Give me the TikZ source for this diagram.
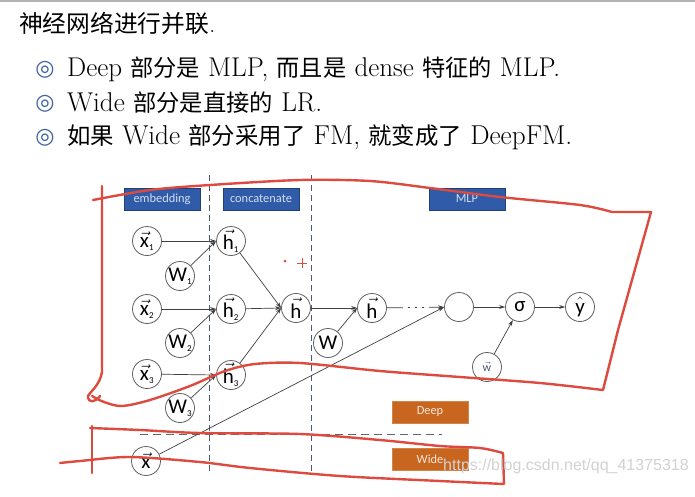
\documentclass[tikz,border=0pt]{standalone}
\usepackage{amsmath}
\usepackage{graphicx}
\usepackage{fontspec}
\newfontfamily\cjk{Noto Sans CJK SC}
\newfontfamily\dfont{Carlito}
\newfontfamily\symfont{DejaVu Sans}
\newfontfamily\wmfont{Liberation Sans}
\usetikzlibrary{arrows.meta,positioning}

\definecolor{boxblue}{HTML}{2F5BA8}
\definecolor{boxorange}{HTML}{C8651E}
\definecolor{penred}{HTML}{DD4B40}
\definecolor{sepline}{HTML}{4A5A70}
\definecolor{ringblue}{HTML}{3E63A0}

\newcommand\vlab[2]{$\vec{\hbox{\dfont #1}}_{\hbox{\dfont\fontsize{9}{9}\selectfont #2}}$}
\newcommand\wlab[1]{W\hbox{\fontsize{9}{9}\selectfont\raisebox{-3pt}{#1}}}
\newcommand\zh[1]{{\cjk\fontsize{21}{21}\selectfont #1}}

\tikzset{
  neuron/.style={circle, draw=gray!75!black, line width=0.8pt, minimum size=29pt,
    inner sep=0pt, font=\dfont\fontsize{21}{21}\selectfont},
  tagbox/.style={fill=boxblue, draw=boxblue!70!black, text=white!80!boxblue,
    minimum width=76pt, minimum height=22pt, inner sep=0pt,
    font=\dfont\fontsize{12.4}{12.4}\selectfont},
  partbox/.style={tagbox, fill=boxorange, draw=boxorange!80!white, text=white!85!boxorange},
  link/.style={draw=black!75, line width=0.7pt, -{Stealth[length=6pt,width=4pt]}},
  redpen/.style={draw=penred, line width=2.4pt, line cap=round, line join=round},
  bullettext/.style={anchor=west, inner sep=0pt, font=\fontsize{24.5}{28}\selectfont},
  ringmark/.style={inner sep=0pt, text=ringblue, font=\symfont\bfseries\fontsize{22}{22}\selectfont}
}

\begin{document}
\begin{tikzpicture}[x=1pt,y=-1pt]
  \useasboundingbox (0,0) rectangle (695,496);
  \fill[white] (0,0) rectangle (695,496);
  \draw[gray!60, line width=1.5pt] (0,1) -- (695,1);

  % title and bullets
  \node[anchor=west, inner sep=0pt, font=\fontsize{24}{28}\selectfont] (title) at (19,23)
    {\resizebox{196pt}{!}{{\cjk 神经网络进行并联}.}};
  \node[ringmark] (r1) at (45,70) {◎};
  \node[ringmark] (r2) at (45,104) {◎};
  \node[ringmark] (r3) at (45,138) {◎};
  \node[bullettext] (b1) at (67,69) {\resizebox{493pt}{!}{Deep \zh{部分是} MLP, \zh{而且是} dense \zh{特征的} MLP.}};
  \node[bullettext] (b2) at (67,103) {\resizebox{255pt}{!}{Wide \zh{部分是直接的} LR.}};
  \node[bullettext] (b3) at (67,137) {\resizebox{505pt}{!}{\zh{如果} Wide \zh{部分采用了} FM, \zh{就变成了} DeepFM.}};

  % tags
  \node[tagbox] (emb) at (162,199) {embedding};
  \node[tagbox] (cat) at (261,199) {concatenate};
  \node[tagbox] (mlp) at (467,199) {MLP};
  \node[partbox] (deep) at (430,412) {Deep};
  \node[partbox] (wide) at (430,459) {Wide};

  % separators
  \draw[sepline, line width=0.8pt, dash pattern=on 6pt off 4pt] (209,175) -- (209,472);
  \draw[sepline, line width=0.8pt, dash pattern=on 6pt off 4pt] (311,175) -- (311,472);
  \draw[gray!80!black, line width=0.9pt, dash pattern=on 8pt off 5pt] (140,434) -- (442,434);

  % neurons
  \node[neuron] (x1) at (147,241) {\vlab{x}{1}};
  \node[neuron] (w1) at (180,276) {\wlab{1}};
  \node[neuron] (x2) at (147,309) {\vlab{x}{2}};
  \node[neuron] (w2) at (180,343) {\wlab{2}};
  \node[neuron] (x3) at (147,374) {\vlab{x}{3}};
  \node[neuron] (w3) at (180,408) {\wlab{3}};
  \node[neuron] (xw) at (146,461) {$\vec{\hbox{\dfont x}}$};
  \node[neuron] (h1) at (231,241) {\vlab{h}{1}};
  \node[neuron] (h2) at (231,309) {\vlab{h}{2}};
  \node[neuron] (h3) at (231,375) {\vlab{h}{3}};
  \node[neuron] (hc) at (296,308) {$\vec{\hbox{\dfont h}}$};
  \node[neuron] (wm) at (328,343) {W};
  \node[neuron] (hm) at (372,308) {$\vec{\hbox{\dfont h}}$};
  \node[neuron] (hn) at (459,307) {};
  \node[neuron] (sg) at (520,307) {σ};
  \node[neuron] (yo) at (580,307) {$\hat{\hbox{\dfont y}}$};
  \node[neuron, font=\dfont\fontsize{12}{12}\selectfont, text=sepline] (wv) at (487,367) {$\vec{\hbox{\dfont w}}$};

  % connectors
  \draw[link] (x1) -- (h1.west);
  \draw[link] (w1) -- (h1.west);
  \draw[link] (x2) -- (h2.west);
  \draw[link] (w2) -- (h2.west);
  \draw[link] (x3) -- (h3.west);
  \draw[link] (w3) -- (h3.west);
  \draw[link] (h1) -- (hc.west);
  \draw[link] (h2) -- (hc.west);
  \draw[link] (h3) -- (hc.west);
  \draw[link] (hc) -- (hm.west);
  \draw[link] (wm) -- (hm.west);
  \draw[link, dash pattern=on 16pt off 5pt on 2pt off 5pt on 2pt off 5pt on 2pt off 5pt on 60pt] (hm) -- (hn);
  \draw[link] (xw) -- (hn.west);
  \draw[link] (hn) -- (sg);
  \draw[link] (sg) -- (yo);
  \draw[link] (wv) -- (sg);

  % hand-drawn marks
  \draw[redpen] plot[smooth] coordinates {(93,200) (150,190) (210,185) (300,180) (370,181) (430,188) (500,197) (580,205) (612,212)}
    -- (651,212) -- (618,330) -- (603,390)
    plot[smooth] coordinates {(603,390) (540,383) (460,377) (380,371) (300,363) (255,364) (225,371) (190,386) (150,400) (122,406) (104,402) (92,396)};
  \draw[redpen] (102,186) -- (102,372) .. controls (100,385) and (90,392) .. (88,396) .. controls (88,404) and (96,402) .. (100,396);
  \draw[redpen] plot[smooth] coordinates {(90,428) (140,430) (200,433) (300,434) (380,440) (440,446) (480,448) (503,453)}
    -- (504,484)
    plot[smooth] coordinates {(504,484) (440,481) (340,476) (250,468) (200,462) (130,457) (80,461) (60,463)};
  \draw[redpen] (92,426) -- (92,473);
  \fill[penred] (285,261) circle (1.5);
  \draw[penred, line width=1pt] (297,263) -- (307,263) (302,258) -- (302,268);

  % watermark
  \node[anchor=west, inner sep=0pt, text=gray!35, font=\wmfont\fontsize{16}{16}\selectfont] (wm-text) at (443,466) {https://blog.csdn.net/qq\_41375318};
\end{tikzpicture}
\end{document}
